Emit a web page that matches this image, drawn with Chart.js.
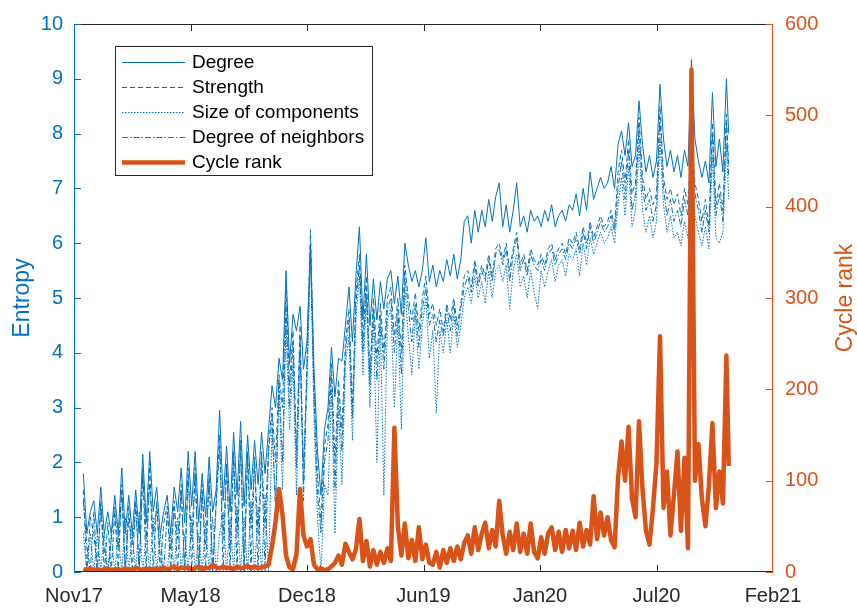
<!DOCTYPE html>
<html>
<head>
<meta charset="utf-8">
<title>Entropy and cycle rank</title>
<script src="https://cdn.jsdelivr.net/npm/chart.js"></script>
<style>
  html, body { margin: 0; padding: 0; background: #fff; }
  #wrap { width: 857px; height: 609px; }
</style>
</head>
<body>
<div id="wrap"><canvas id="myChart" width="857" height="609"></canvas></div>
<script>
// days counted from 1 Nov 2017, one sample read about every 6 days
const days = [
  16, 22, 28, 34, 40, 46, 52, 58, 64, 70,
  76, 82, 88, 94, 100, 106, 112, 118, 124, 130,
  136, 142, 148, 154, 160, 166, 172, 178, 184, 190,
  196, 202, 208, 214, 220, 226, 232, 238, 244, 250,
  256, 262, 268, 274, 280, 286, 292, 298, 304, 310,
  316, 322, 328, 334, 340, 346, 352, 358, 364, 370,
  376, 382, 388, 394, 400, 406, 412, 418, 424, 430,
  436, 442, 448, 454, 460, 466, 472, 478, 484, 490,
  496, 502, 508, 514, 520, 526, 532, 538, 544, 550,
  556, 562, 568, 574, 580, 586, 592, 598, 604, 610,
  616, 622, 628, 634, 640, 646, 652, 658, 664, 670,
  676, 682, 688, 694, 700, 706, 712, 718, 724, 730,
  736, 742, 748, 754, 760, 766, 772, 778, 784, 790,
  796, 802, 808, 814, 820, 826, 832, 838, 844, 850,
  856, 862, 868, 874, 880, 886, 892, 898, 904, 910,
  916, 922, 928, 934, 940, 946, 952, 958, 964, 970,
  976, 982, 988, 994, 1000, 1006, 1012, 1018, 1024, 1030,
  1036, 1042, 1048, 1054, 1060, 1066, 1072, 1078, 1084, 1090,
  1096, 1102, 1108, 1114, 1120, 1124
];
const xTickDays = [0, 200, 400, 600, 800, 1000, 1200];
const xTickLabels = ['Nov17', 'May18', 'Dec18', 'Jun19', 'Jan20', 'Jul20', 'Feb21'];

const degree = [
  1.8, 0.7, 1.1, 1.3, 0.7, 1.55, 0.7, 1.1, 0.7, 1.4,
  0.7, 1.9, 0.7, 1.4, 0.7, 1.5, 0.7, 2.15, 0.9, 2.2,
  1.1, 1.55, 0.7, 1.1, 1.4, 0.7, 1.55, 1.1, 1.9, 0.9,
  2.2, 1.2, 2.2, 0.9, 1.8, 1.0, 2.1, 1.1, 1.5, 2.95,
  1.3, 2.3, 1.1, 2.55, 1.4, 2.75, 1.2, 2.5, 1.5, 2.4,
  1.6, 2.55, 1.8, 2.6, 3.4, 3.0, 3.9, 3.5, 5.5, 3.8,
  4.7, 4.4, 4.85, 3.7, 4.2, 6.0, 3.7, 2.2, 1.4, 2.6,
  3.0, 4.1, 3.2, 3.9, 3.85, 4.5, 5.2, 4.2, 5.4, 6.3,
  4.6, 5.8, 4.5, 5.35, 4.6, 5.3, 4.8, 5.35, 5.5, 4.9,
  5.4, 4.7, 6.0, 5.6, 5.3, 5.5, 5.2, 5.5, 6.1, 5.3,
  5.6, 5.2, 5.5, 5.3, 5.7, 5.4, 5.8, 5.35, 5.7, 6.4,
  6.5, 6.0, 6.6, 6.2, 6.6, 6.3, 6.8, 6.4, 6.85, 7.1,
  6.3, 6.7, 6.2, 6.6, 7.1, 6.3, 6.5, 6.2, 6.6, 6.4,
  6.5, 6.3, 6.6, 6.4, 6.7, 6.3, 6.5, 6.6, 6.4, 6.7,
  6.6, 6.9, 6.5, 7.0, 6.6, 7.3, 6.8, 7.0, 7.2, 7.0,
  7.1, 7.4, 7.0, 7.8, 8.05, 7.6, 8.2, 7.4, 7.6, 8.6,
  7.8, 7.3, 7.6, 7.2, 7.5, 8.9, 7.9, 7.4, 7.7, 7.3,
  7.6, 7.2, 7.7, 7.4, 9.35, 7.9, 7.5, 7.2, 7.5, 7.1,
  8.75, 7.4, 7.9, 7.3, 9.0, 8.0
];

const strength = [
  1.5, 0, 1.0, 0.7, 0, 1.3, 0, 0.9, 0, 1.1,
  0, 1.6, 0, 1.2, 0, 1.3, 0, 1.9, 0, 2.0,
  0, 1.3, 0, 0.9, 1.2, 0, 1.3, 0, 1.6, 0,
  1.9, 0, 1.9, 0, 1.6, 0, 1.8, 0, 1.3, 2.5,
  0, 2.0, 0, 2.2, 0, 2.4, 0, 2.2, 0, 2.1,
  0, 2.2, 0.8, 2.3, 3.0, 2.0, 3.6, 3.0, 5.3, 3.4,
  4.4, 2.2, 4.5, 1.6, 3.9, 6.25, 3.4, 1.8, 0.9, 2.3,
  2.7, 3.8, 2.0, 3.5, 2.6, 4.2, 4.8, 3.0, 5.1, 5.8,
  4.2, 5.4, 3.6, 5.0, 3.9, 4.9, 4.0, 5.0, 5.2, 4.3,
  5.0, 4.0, 5.6, 5.0, 4.6, 5.1, 4.4, 5.0, 5.4, 4.7,
  4.9, 4.5, 4.8, 4.4, 4.9, 4.6, 5.0, 4.5, 4.9, 5.4,
  5.5, 5.2, 5.7, 5.3, 5.6, 5.4, 5.8, 5.4, 5.9, 6.0,
  5.7, 6.0, 5.5, 5.9, 6.2, 5.6, 5.8, 5.5, 5.9, 5.7,
  5.6, 5.8, 5.6, 5.9, 6.0, 5.7, 5.9, 6.0, 5.8, 6.1,
  6.0, 6.2, 5.9, 6.3, 6.0, 6.4, 6.1, 6.3, 6.5, 6.3,
  6.4, 6.6, 6.3, 7.3, 7.7, 7.1, 7.9, 6.9, 7.1, 8.3,
  7.2, 6.8, 7.0, 6.7, 6.9, 8.5, 7.2, 6.8, 7.0, 6.7,
  6.9, 6.5, 7.0, 6.7, 8.0, 7.1, 6.8, 6.4, 6.8, 6.3,
  8.2, 6.7, 7.1, 6.6, 8.35, 7.4
];

const sizeComp = [
  0.7, 0, 0.7, 0, 0.7, 0, 0.7, 0, 0.7, 0,
  0.7, 0, 1.0, 0, 0.7, 0, 1.1, 0, 0.7, 0,
  1.0, 0, 0.7, 0, 0, 0.7, 0, 1.0, 0, 0.7,
  0, 1.0, 0, 0.7, 0, 0.9, 0, 1.0, 0, 0.7,
  1.1, 0, 1.0, 0, 1.2, 0, 1.0, 0, 1.3, 0,
  1.2, 0, 1.4, 0, 2.6, 1.3, 3.3, 1.5, 4.5, 2.6,
  3.8, 1.4, 4.0, 2.0, 3.4, 5.8, 2.8, 1.0, 0, 1.6,
  1.4, 3.3, 0.7, 3.0, 1.6, 3.8, 4.3, 2.4, 4.6, 5.4,
  3.6, 5.0, 3.0, 4.6, 2.0, 4.5, 1.4, 4.6, 4.8, 3.0,
  4.6, 2.6, 5.2, 4.3, 3.6, 4.7, 3.7, 4.5, 5.0, 3.9,
  4.4, 2.9, 4.4, 4.0, 4.6, 4.0, 4.7, 4.1, 4.5, 5.0,
  5.2, 4.9, 5.4, 5.0, 5.3, 4.9, 5.5, 5.0, 5.5, 5.6,
  5.3, 5.6, 4.8, 5.5, 5.8, 5.2, 5.4, 5.0, 5.5, 5.1,
  4.8, 5.5, 5.2, 5.5, 5.7, 5.3, 5.6, 5.7, 5.4, 5.8,
  5.7, 5.9, 5.4, 6.0, 5.6, 6.1, 5.8, 6.0, 6.2, 6.0,
  6.1, 6.3, 6.0, 6.7, 7.2, 6.5, 7.4, 6.3, 6.6, 7.8,
  6.6, 6.2, 6.5, 6.1, 6.4, 7.9, 6.7, 6.2, 6.5, 6.1,
  6.2, 5.95, 6.4, 6.1, 7.5, 6.5, 6.2, 5.95, 6.3, 5.9,
  7.6, 6.1, 6.0, 6.2, 7.8, 6.8
];

const neighbors = [
  1.3, 0.5, 0, 1.1, 0, 1.2, 0.4, 0, 0.6, 1.2,
  0.4, 1.5, 0, 1.0, 0.5, 1.2, 0, 1.8, 0.6, 1.6,
  0.7, 1.2, 0.3, 0, 1.1, 0.4, 1.2, 0.6, 1.5, 0,
  1.7, 0.6, 1.8, 0, 1.4, 0.5, 1.7, 0, 1.2, 2.3,
  0.6, 1.9, 0.4, 2.1, 0.7, 2.3, 0, 2.1, 0.8, 2.0,
  0.7, 2.1, 0, 2.2, 2.8, 1.1, 3.5, 2.0, 4.9, 3.0,
  4.2, 1.9, 4.3, 1.3, 3.7, 6.0, 3.2, 1.4, 0.7, 2.0,
  2.4, 3.6, 1.5, 3.3, 2.2, 4.0, 4.6, 2.8, 4.9, 5.6,
  4.0, 5.2, 3.4, 4.8, 3.5, 4.7, 3.7, 4.8, 5.0, 4.0,
  4.8, 3.6, 5.4, 4.8, 4.2, 4.9, 4.1, 4.8, 5.2, 4.5,
  4.7, 4.2, 4.6, 4.3, 4.8, 4.4, 4.9, 4.3, 4.8, 5.2,
  5.4, 5.1, 5.6, 5.2, 5.5, 5.3, 5.7, 5.3, 5.8, 5.9,
  5.6, 5.9, 5.3, 5.8, 6.1, 5.5, 5.7, 5.4, 5.8, 5.6,
  5.5, 5.7, 5.5, 5.8, 5.9, 5.6, 5.8, 5.9, 5.7, 6.0,
  5.9, 6.1, 5.8, 6.2, 5.9, 6.3, 6.0, 6.2, 6.4, 6.2,
  6.3, 6.5, 6.2, 7.0, 7.5, 6.8, 7.7, 6.6, 6.9, 8.1,
  7.0, 6.6, 6.8, 6.4, 6.7, 8.3, 7.0, 6.5, 6.8, 6.4,
  6.6, 6.3, 6.8, 6.5, 7.8, 6.9, 6.6, 6.2, 6.6, 6.2,
  8.0, 6.5, 6.9, 6.4, 8.2, 7.2
];

const cycleRank = [
  3, 2, 4, 2, 3, 2, 3, 4, 2, 3,
  3, 2, 4, 3, 2, 5, 3, 2, 4, 3,
  3, 4, 2, 5, 3, 4, 6, 3, 5, 4,
  5, 3, 4, 6, 3, 5, 4, 8, 5, 4,
  6, 4, 5, 3, 6, 4, 5, 7, 4, 6,
  4, 5, 6, 8, 28, 55, 91, 62, 18, 5,
  3, 20, 91, 40, 28, 36, 8, 3, 4, 2,
  3, 6, 10, 18, 8, 31, 22, 14, 25, 58,
  12, 34, 6, 24, 8, 22, 10, 26, 12, 158,
  50, 18, 53, 15, 35, 12, 49, 14, 30, 10,
  8, 22, 5, 24, 10, 26, 12, 28, 14, 32,
  40, 20, 49, 24, 42, 54, 26, 46, 28, 78,
  40, 20, 44, 24, 53, 22, 42, 20, 53, 22,
  15, 38, 20, 42, 49, 24, 44, 22, 46, 26,
  45, 24, 54, 28, 46, 30, 83, 36, 65, 40,
  60, 35, 27, 103, 143, 100, 159, 80, 60, 165,
  90, 45, 30, 70, 120, 258, 70, 110, 40, 85,
  132, 45, 125, 26, 550, 100, 140, 80, 50, 95,
  163, 70, 110, 75, 237, 116
];

const blue = '#0072BD';
const orange = '#D95319';
const axisGray = '#262626';
const fontFamily = "'Liberation Sans', Arial, Helvetica, sans-serif";

function points(values) {
  return days.map((d, i) => ({ x: d, y: values[i] }));
}

// box with inward ticks, matlab style
const frame = {
  id: 'frame',
  afterDatasetsDraw(chart) {
    const { ctx, chartArea: a, scales } = chart;
    ctx.save();
    ctx.lineWidth = 1;
    ctx.strokeStyle = axisGray;
    ctx.beginPath();
    ctx.moveTo(a.left, a.top + 0.5);
    ctx.lineTo(a.right, a.top + 0.5);
    ctx.moveTo(a.left, a.bottom - 0.5);
    ctx.lineTo(a.right, a.bottom - 0.5);
    scales.x.ticks.forEach((t, i) => {
      if (i === 0 || i === scales.x.ticks.length - 1) return;
      const px = Math.round(scales.x.getPixelForValue(t.value)) + 0.5;
      ctx.moveTo(px, a.top);
      ctx.lineTo(px, a.top + 7);
      ctx.moveTo(px, a.bottom);
      ctx.lineTo(px, a.bottom - 7);
    });
    ctx.stroke();

    ctx.strokeStyle = blue;
    ctx.beginPath();
    ctx.moveTo(a.left + 0.5, a.top);
    ctx.lineTo(a.left + 0.5, a.bottom);
    scales.y.ticks.forEach(t => {
      const py = Math.round(scales.y.getPixelForValue(t.value)) + 0.5;
      ctx.moveTo(a.left, py);
      ctx.lineTo(a.left + 7, py);
    });
    ctx.stroke();

    ctx.strokeStyle = orange;
    ctx.beginPath();
    ctx.moveTo(a.right - 0.5, a.top);
    ctx.lineTo(a.right - 0.5, a.bottom);
    scales.y1.ticks.forEach(t => {
      const py = Math.round(scales.y1.getPixelForValue(t.value)) + 0.5;
      ctx.moveTo(a.right, py);
      ctx.lineTo(a.right - 7, py);
    });
    ctx.stroke();
    ctx.restore();
  }
};

// legend box drawn inside the plot, top left
const legendBox = {
  id: 'legendBox',
  afterDraw(chart) {
    const ctx = chart.ctx;
    ctx.save();
    ctx.fillStyle = '#fff';
    ctx.fillRect(115, 46, 258, 130);
    ctx.strokeStyle = axisGray;
    ctx.lineWidth = 1;
    ctx.strokeRect(115.5, 46.5, 257, 129);
    ctx.font = '19px ' + fontFamily;
    ctx.textBaseline = 'middle';
    chart.data.datasets.forEach((ds, i) => {
      const y = 62 + i * 25;
      ctx.strokeStyle = ds.borderColor;
      ctx.lineWidth = ds.borderWidth;
      ctx.setLineDash(ds.borderDash || []);
      ctx.beginPath();
      ctx.moveTo(122, y + 0.5);
      ctx.lineTo(185, y + 0.5);
      ctx.stroke();
      ctx.setLineDash([]);
      ctx.fillStyle = '#000';
      ctx.fillText(ds.label, 192, y + 1);
    });
    ctx.restore();
  }
};

// both axis titles read bottom to top
const axisTitles = {
  id: 'axisTitles',
  afterDraw(chart) {
    const ctx = chart.ctx;
    const mid = (chart.chartArea.top + chart.chartArea.bottom) / 2;
    ctx.save();
    ctx.font = '23px ' + fontFamily;
    ctx.textAlign = 'center';
    ctx.textBaseline = 'alphabetic';
    [['Entropy', 29, blue], ['Cycle rank', 852, orange]].forEach(([txt, x, col]) => {
      ctx.save();
      ctx.translate(x, mid);
      ctx.rotate(-Math.PI / 2);
      ctx.fillStyle = col;
      ctx.fillText(txt, 0, 0);
      ctx.restore();
    });
    ctx.restore();
  }
};

const ctx = document.getElementById('myChart').getContext('2d');
const myChart = new Chart(ctx, {
  type: 'line',
  data: {
    datasets: [
      { label: 'Degree', data: points(degree), yAxisID: 'y', borderColor: blue, borderWidth: 1, order: 4 },
      { label: 'Strength', data: points(strength), yAxisID: 'y', borderColor: blue, borderWidth: 1, borderDash: [5, 3], order: 3 },
      { label: 'Size of components', data: points(sizeComp), yAxisID: 'y', borderColor: blue, borderWidth: 1, borderDash: [1.5, 1.5], order: 2 },
      { label: 'Degree of neighbors', data: points(neighbors), yAxisID: 'y', borderColor: blue, borderWidth: 1, borderDash: [6, 2, 1.5, 2], order: 1 },
      { label: 'Cycle rank', data: points(cycleRank), yAxisID: 'y1', borderColor: orange, borderWidth: 4.5, order: 0 }
    ]
  },
  options: {
    responsive: false,
    animation: false,
    devicePixelRatio: 1,
    elements: {
      point: { radius: 0 },
      line: { tension: 0, borderJoinStyle: 'round', fill: false }
    },
    layout: { padding: { top: 19, left: 0, right: 0, bottom: 0 } },
    plugins: {
      legend: { display: false },
      tooltip: { enabled: false }
    },
    scales: {
      x: {
        type: 'linear',
        min: 0,
        max: 1200,
        afterBuildTicks: s => { s.ticks = xTickDays.map(v => ({ value: v })); },
        afterFit: s => { s.height = 37; },
        grid: { display: false, drawTicks: false },
        border: { display: false },
        ticks: {
          autoSkip: false,
          maxRotation: 0,
          padding: 12,
          color: axisGray,
          font: { family: fontFamily, size: 20 },
          callback: v => xTickLabels[xTickDays.indexOf(v)]
        }
      },
      y: {
        position: 'left',
        min: 0,
        max: 10,
        afterFit: s => { s.width = 74; },
        grid: { display: false, drawTicks: false },
        border: { display: false },
        ticks: { stepSize: 1, padding: 11, color: blue, font: { family: fontFamily, size: 20 } }
      },
      y1: {
        position: 'right',
        min: 0,
        max: 600,
        afterFit: s => { s.width = 84; },
        grid: { display: false, drawTicks: false },
        border: { display: false },
        ticks: { stepSize: 100, padding: 12, color: orange, font: { family: fontFamily, size: 20 } }
      }
    }
  },
  plugins: [frame, legendBox, axisTitles]
});
</script>
</body>
</html>
